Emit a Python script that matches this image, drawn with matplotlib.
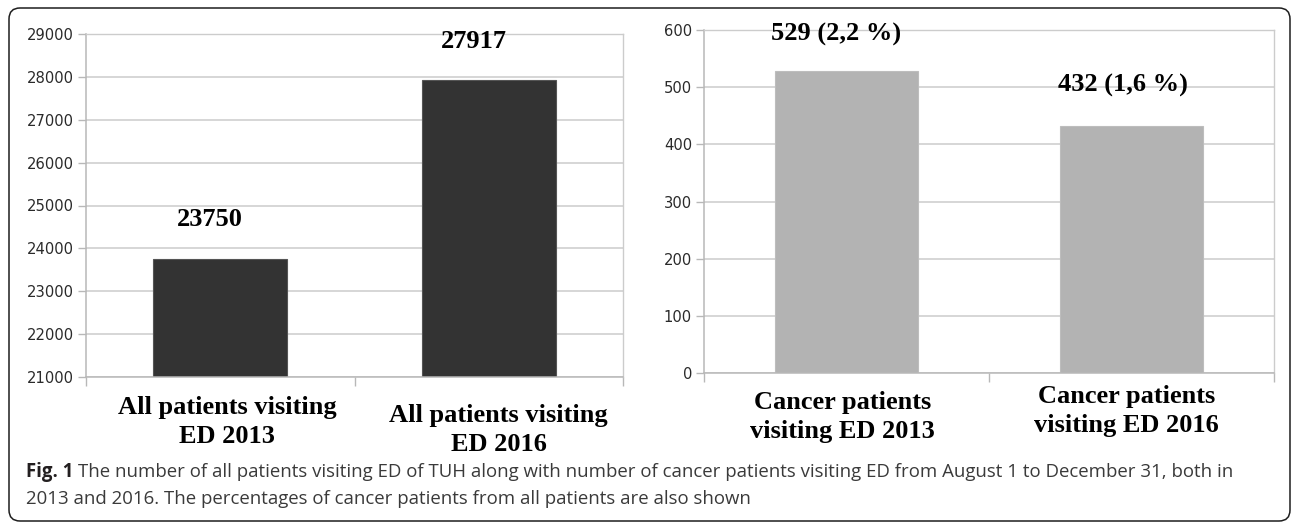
import matplotlib
matplotlib.use("Agg")
import matplotlib.pyplot as plt
from matplotlib.patches import FancyBboxPatch
from matplotlib.transforms import IdentityTransform

# Data
all_labels = ["All patients visiting\nED 2013", "All patients visiting\nED 2016"]
all_values = [23750, 27917]
cancer_labels = ["Cancer patients\nvisiting ED 2013", "Cancer patients\nvisiting ED 2016"]
cancer_values = [529, 432]
cancer_pct = ["2,2 %", "1,6 %"]
left_ticks = [21000, 22000, 23000, 24000, 25000, 26000, 27000, 28000, 29000]
right_ticks = [0, 100, 200, 300, 400, 500, 600]
caption_bold = "Fig. 1"
caption_line1 = ("The number of all patients visiting ED of TUH along with number of cancer "
                 "patients visiting ED from August 1 to December 31, both in")
caption_line2 = "2013 and 2016. The percentages of cancer patients from all patients are also shown"

W, H, DPI = 1292, 523, 100
PX = 72.0 / DPI  # points per pixel

fig = plt.figure(figsize=(W / DPI, H / DPI), dpi=DPI)
fig.patch.set_facecolor("white")


def px_axes(x0, y0, x1, y1):
    """Axes placed by pixel box (y measured from the top)."""
    return fig.add_axes([x0 / W, (H - y1) / H, (x1 - x0) / W, (y1 - y0) / H])


SERIF = ["Liberation Serif", "DejaVu Serif"]
GRID = "#cccccc"
SPINE = "#b8b8b8"
TICKTXT = "#2a2a2a"


def style_axes(ax, ticks):
    ax.set_xlim(-0.5, 1.5)
    ax.set_ylim(ticks[0], ticks[-1])
    ax.set_yticks(ticks)
    ax.set_xticks([-0.5, 0.5, 1.5])
    ax.set_xticklabels([])
    ax.yaxis.grid(True, color=GRID, linewidth=1.1)
    ax.set_axisbelow(True)
    for side in ["top", "right"]:
        ax.spines[side].set_color(GRID)
        ax.spines[side].set_linewidth(1.0)
    for side in ["left", "bottom"]:
        ax.spines[side].set_color(SPINE)
        ax.spines[side].set_linewidth(1.1)
    ax.tick_params(axis="y", length=8 * PX, width=1.0, color=SPINE, pad=4 * PX,
                   labelsize=10.6, labelcolor=TICKTXT, labelfontfamily="DejaVu Sans")
    ax.tick_params(axis="x", length=9 * PX, width=1.0, color=SPINE)


def cat_label(ax, i, text, dx, dy):
    ax.annotate(text, xy=(i, 0), xycoords=("data", "axes fraction"),
                xytext=(dx * PX, -dy * PX), textcoords="offset points",
                ha="center", va="center", fontsize=19, fontweight="bold",
                family=SERIF, linespacing=1.32, color="black")


def value_label(ax, i, v, text, dx, dy):
    ax.annotate(text, xy=(i, v), xytext=(dx * PX, dy * PX), textcoords="offset points",
                ha="center", va="center", fontsize=19, fontweight="bold",
                family=SERIF, color="black", annotation_clip=False)


# Left panel: all patients
ax1 = px_axes(86, 34, 623, 377)
style_axes(ax1, left_ticks)
ax1.bar(range(len(all_values)), all_values, width=0.5, bottom=0,
        color="#333333", edgecolor="#555555", linewidth=0.8, zorder=2)
ax1.set_ylim(left_ticks[0], left_ticks[-1])
for i, (v, dx, dy) in enumerate(zip(all_values, [-10, -15], [40, 39])):
    value_label(ax1, i, v, f"{v}", dx, dy)
for i, (t, dx, dy) in enumerate(zip(all_labels, [7, 10], [45, 53])):
    cat_label(ax1, i, t, dx, dy)

# Right panel: cancer patients
ax2 = px_axes(704, 30, 1274, 373)
style_axes(ax2, right_ticks)
ax2.bar(range(len(cancer_values)), cancer_values, width=0.5,
        color="#b3b3b3", edgecolor="#bdbdbd", linewidth=0.8, zorder=2)
for i, (v, p, dx, dy) in enumerate(zip(cancer_values, cancer_pct, [-10, -9], [36, 41])):
    value_label(ax2, i, v, f"{v} ({p})", dx, dy)
for i, (t, dx, dy) in enumerate(zip(cancer_labels, [-4, -5], [44, 38])):
    cat_label(ax2, i, t, dx, dy)

# Caption
cap_font = ["Open Sans", "DejaVu Sans"]
cap_size = 13.4
t0 = fig.text(26 / W, (H - 472) / H, caption_bold, fontsize=cap_size, fontweight="bold",
              family=cap_font, color="#231f20", ha="left", va="center")
fig.canvas.draw()
bb = t0.get_window_extent()
fig.text((bb.x1 + 5) / W, (H - 472) / H, caption_line1, fontsize=cap_size,
         family=cap_font, color="#3a3a3a", ha="left", va="center")
fig.text(26 / W, (H - 499) / H, caption_line2, fontsize=cap_size,
         family=cap_font, color="#3a3a3a", ha="left", va="center")

# Rounded frame around the figure
frame = FancyBboxPatch((9, 2), 1281, 513, boxstyle="round,pad=0,rounding_size=11",
                       transform=IdentityTransform(), facecolor="none",
                       edgecolor="#1e1e1e", linewidth=1.1)
fig.patches.append(frame)

fig.savefig("out.png", dpi=DPI, facecolor="white")
